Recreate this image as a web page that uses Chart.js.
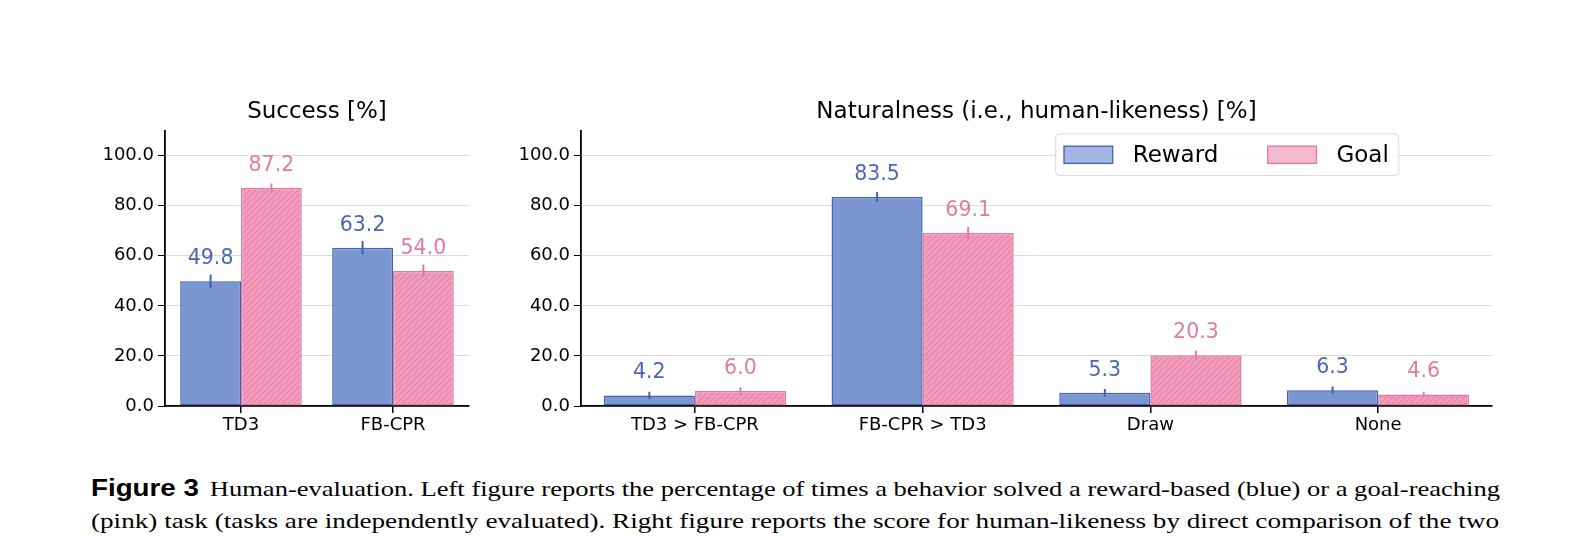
<!DOCTYPE html>
<html>
<head>
<meta charset="utf-8">
<script src="https://cdn.jsdelivr.net/npm/chart.js@4.4.1/dist/chart.umd.min.js"></script>
<style>
  body { margin: 0; background: #fff; width: 1592px; height: 536px; overflow: hidden; position: relative; }
  canvas { position: absolute; }
  .cap { position: absolute; left: 91px; font-family: "Liberation Serif", serif; font-size: 22px;
         line-height: 24px; white-space: nowrap; color: #000; }
  .cap .line { display: inline-block; transform-origin: 0 50%; }
  .cap b { font-family: "Liberation Sans", sans-serif; font-size: 23px; }
  .gap { display: inline-block; width: 9px; }
</style>
</head>
<body>
<canvas id="success" width="420" height="370" style="left:60px;top:80px"></canvas>
<canvas id="natural" width="1040" height="370" style="left:480px;top:80px"></canvas>
<div class="cap" style="top:476px"><span class="line" data-w="1409"><b>Figure 3</b><span class="gap"></span>Human-evaluation. Left figure reports the percentage of times a behavior solved a reward-based (blue) or a goal-reaching</span></div>
<div class="cap" style="top:509px"><span class="line" data-w="1408">(pink) task (tasks are independently evaluated). Right figure reports the score for human-likeness by direct comparison of the two</span></div>
<script>
// data
let successCats = ["TD3", "FB-CPR"];
let successReward = [49.8, 63.2];
let successGoal = [87.2, 54.0];
let successRewardErr = [2.7, 2.7];
let successGoalErr = [1.7, 2.5];

let natCats = ["TD3 > FB-CPR", "FB-CPR > TD3", "Draw", "None"];
let natReward = [4.2, 83.5, 5.3, 6.3];
let natGoal = [6.0, 69.1, 20.3, 4.6];
let natRewardErr = [1.5, 2.0, 1.5, 1.5];
let natGoalErr = [1.5, 2.4, 1.8, 1.1];

let yMax = 110;
let yStep = 20;
let seriesNames = ["Reward", "Goal"];

const FONT = "DejaVu Sans";
const blueFill = "#7b96d1", blueEdge = "#4262b4", blueText = "#4a66b4";
const pinkFill = "#f19aba", pinkEdge = "#e07aa5", pinkText = "#e27aa2";

function hatch(){
  let s = 6;
  let c = document.createElement("canvas");
  c.width = s; c.height = s;
  let g = c.getContext("2d");
  g.fillStyle = pinkFill;
  g.fillRect(0, 0, s, s);
  g.strokeStyle = "#db7aa1";
  g.lineWidth = 0.9;
  g.beginPath();
  g.moveTo(0, s); g.lineTo(s, 0);
  g.moveTo(-s/2, s/2); g.lineTo(s/2, -s/2);
  g.moveTo(s/2, s*1.5); g.lineTo(s*1.5, s/2);
  g.stroke();
  return g.createPattern(c, "repeat");
}

// error bars + value labels on top of each bar
const barExtras = {
  id: "barExtras",
  afterDatasetsDraw(chart){
    let ctx = chart.ctx;
    let y = chart.scales.y;
    chart.data.datasets.forEach((ds, i) => {
      let meta = chart.getDatasetMeta(i);
      meta.data.forEach((bar, j) => {
        let v = ds.data[j], e = ds.errors[j];
        ctx.save();
        ctx.strokeStyle = ds.borderColor;
        ctx.lineWidth = 2;
        ctx.beginPath();
        ctx.moveTo(bar.x, y.getPixelForValue(v + e));
        ctx.lineTo(bar.x, y.getPixelForValue(v - e));
        ctx.stroke();
        ctx.fillStyle = ds.labelColor;
        ctx.font = "20.5px '" + FONT + "'";
        ctx.textAlign = "center";
        ctx.textBaseline = "alphabetic";
        ctx.fillText(v.toFixed(1), bar.x, bar.y - 17);
        ctx.restore();
      });
    });
  }
};

// matplotlib-like legend box inside the right panel
const boxLegend = {
  id: "boxLegend",
  afterDraw(chart){
    let ctx = chart.ctx;
    let a = chart.chartArea;
    let left = a.left + 474.7, top = a.top + 3.3, h = 41.7;
    ctx.save();
    ctx.font = "23px '" + FONT + "'";
    let items = chart.data.datasets.map(ds => ({label: ds.label, fill: ds.legendFill, edge: ds.borderColor}));
    let x = left + 8.3;
    let pos = items.map(it => {
      let p = x;
      x += 48.7 + 20 + ctx.measureText(it.label).width + 49.4;
      return p;
    });
    let right = x - 49.4 + 10;
    ctx.fillStyle = "rgba(255,255,255,0.85)";
    ctx.strokeStyle = "#d9d9d9";
    ctx.lineWidth = 1;
    ctx.beginPath();
    ctx.roundRect(left, top, right - left, h, 4);
    ctx.fill();
    ctx.stroke();
    let cy = top + h / 2;
    items.forEach((it, k) => {
      ctx.fillStyle = it.fill;
      ctx.fillRect(pos[k], cy - 8.6, 48.7, 17.3);
      ctx.strokeStyle = it.edge;
      ctx.lineWidth = 1.3;
      ctx.strokeRect(pos[k], cy - 8.6, 48.7, 17.3);
      ctx.fillStyle = "#000";
      ctx.textBaseline = "middle";
      ctx.fillText(it.label, pos[k] + 48.7 + 20, cy + 1);
    });
    ctx.restore();
  }
};

function makeChart(id, title, cats, reward, goal, rErr, gErr, yWidth, padRight, withLegend){
  let plugins = [barExtras];
  if (withLegend) plugins.push(boxLegend);
  return new Chart(document.getElementById(id), {
    type: "bar",
    data: {
      labels: cats,
      datasets: [
        { label: seriesNames[0], data: reward, errors: rErr, backgroundColor: blueFill, borderColor: blueEdge,
          labelColor: blueText, legendFill: "#a3b5e3", borderWidth: 1.5, borderSkipped: false,
          categoryPercentage: 0.8, barPercentage: 1.0 },
        { label: seriesNames[1], data: goal, errors: gErr, backgroundColor: hatch(), borderColor: pinkEdge,
          labelColor: pinkText, legendFill: "#f4b8cf", borderWidth: 1.5, borderSkipped: false,
          categoryPercentage: 0.8, barPercentage: 1.0 }
      ]
    },
    options: {
      responsive: false,
      animation: false,
      devicePixelRatio: 1,
      layout: { padding: { left: 0, right: padRight, top: 0, bottom: 0 } },
      plugins: {
        legend: { display: false },
        tooltip: { enabled: false },
        title: { display: true, text: title, fullSize: false, color: "#000", font: { family: FONT, size: 23, weight: "normal" },
                 padding: { top: 18, bottom: 5 } }
      },
      scales: {
        x: {
          offset: true,
          grid: { display: true, drawOnChartArea: false, drawTicks: true, tickLength: 7, tickColor: "#000", offset: false, lineWidth: 1.5 },
          border: { display: true, color: "#000", width: 1.8 },
          ticks: { color: "#000", font: { family: FONT, size: 18 }, padding: 2 },
          afterFit(s){ s.height = 44; }
        },
        y: {
          min: 0, max: yMax,
          grid: { color: "#dcdcdc", lineWidth: 1, tickLength: 7, tickColor: "#000" },
          border: { display: true, color: "#000", width: 1.8 },
          ticks: { stepSize: yStep, includeBounds: false, color: "#000", font: { family: FONT, size: 18 }, padding: 4,
                   callback: v => v.toFixed(1) },
          afterFit(s){ s.width = yWidth; }
        }
      }
    },
    plugins: plugins
  });
}

makeChart("success", "Success [%]", successCats, successReward, successGoal, successRewardErr, successGoalErr, 105, 11, false);
makeChart("natural", "Naturalness (i.e., human-likeness) [%]", natCats, natReward, natGoal, natRewardErr, natGoalErr, 101, 28, true);

// stretch each caption line to the justified width of the original
for (let line of document.querySelectorAll(".cap .line")){
  let w = line.getBoundingClientRect().width;
  line.style.transform = "scaleX(" + (Number(line.dataset.w) / w) + ")";
}
</script>
</body>
</html>
